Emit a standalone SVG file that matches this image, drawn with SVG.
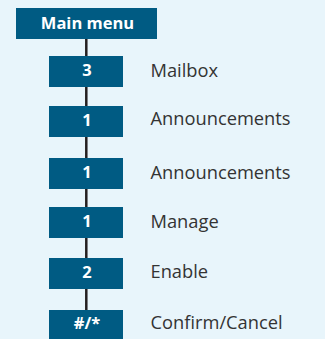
<svg xmlns="http://www.w3.org/2000/svg" width="325" height="339" viewBox="0 0 325 339">
  <style>
    .box { fill: #005b83; }
    .key { font-family: "Open Sans", "Liberation Sans", sans-serif; font-weight: bold; font-size: 16.5px; fill: #ffffff; text-anchor: middle; }
    .lbl { font-family: "Open Sans", "Liberation Sans", sans-serif; font-size: 18.3px; fill: #333333; }
    .conn { stroke: #231f20; stroke-width: 2.5; fill: none; }
  </style>
  <rect x="0" y="0" width="325" height="339" fill="#e8f5fb"/>
  <g id="connectors">
    <line class="conn" x1="86.3" y1="38" x2="86.3" y2="311"/>
  </g>
  <g id="main-menu">
    <rect class="box" x="16" y="8" width="141" height="31"/>
    <text class="key" x="87.5" y="28.5">Main menu</text>
  </g>
  <g id="n-mailbox">
    <rect class="box" x="49" y="56" width="74" height="31"/>
    <text class="key" x="87" y="75.5">3</text>
    <text class="lbl" x="150.5" y="76.5">Mailbox</text>
  </g>
  <g id="n-announcements-1">
    <rect class="box" x="49" y="106" width="74" height="31"/>
    <text class="key" x="87" y="125.5">1</text>
    <text class="lbl" x="150.5" y="124.5">Announcements</text>
  </g>
  <g id="n-announcements-2">
    <rect class="box" x="49" y="158" width="74" height="31"/>
    <text class="key" x="87" y="177.5">1</text>
    <text class="lbl" x="150.5" y="178.5">Announcements</text>
  </g>
  <g id="n-manage">
    <rect class="box" x="49" y="207" width="74" height="31"/>
    <text class="key" x="87" y="226.5">1</text>
    <text class="lbl" x="150.5" y="227.5">Manage</text>
  </g>
  <g id="n-enable">
    <rect class="box" x="49" y="258" width="74" height="31"/>
    <text class="key" x="87" y="277.5">2</text>
    <text class="lbl" x="150.5" y="277.5">Enable</text>
  </g>
  <g id="n-confirm">
    <rect class="box" x="49" y="310" width="74" height="31"/>
    <text class="key" x="87" y="329">#/*</text>
    <text class="lbl" x="150.5" y="328.5">Confirm/Cancel</text>
  </g>
</svg>
